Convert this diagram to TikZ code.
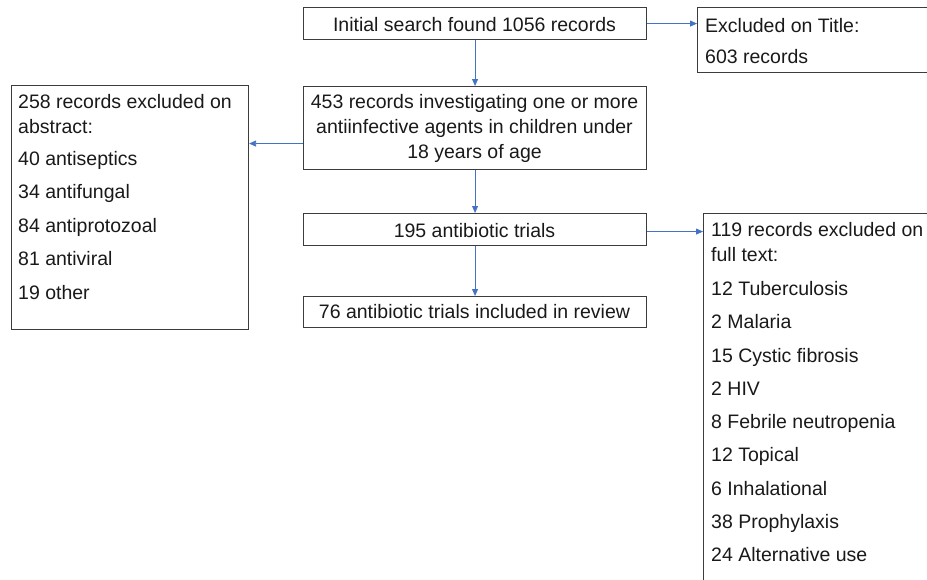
\documentclass[tikz,border=0pt]{standalone}
\usepackage{fontspec}
\setmainfont{Liberation Sans}
\usetikzlibrary{arrows.meta,calc}
\definecolor{arrowblue}{RGB}{68,114,196}
\definecolor{boxgray}{RGB}{60,60,60}
\definecolor{txt}{RGB}{25,25,25}
\begin{document}
\begin{tikzpicture}[x=1pt,y=-1pt,
  box/.style={draw=boxgray,line width=1.1pt,rectangle,inner sep=0pt},
  lbl/.style={inner sep=0pt,text=txt,font=\fontsize{19.5}{23}\selectfont},
  arr/.style={draw=arrowblue,line width=0.8pt,-{Triangle[length=7pt,width=6pt]}}]
\useasboundingbox (0,0) rectangle (927,579);
% boxes
\node[box,minimum width=343pt,minimum height=32pt,anchor=north west] (b1) at (303,7) {};
\node[box,minimum width=343pt,minimum height=83pt,anchor=north west] (b2) at (303,86) {};
\node[box,minimum width=343pt,minimum height=32pt,anchor=north west] (b3) at (303,213) {};
\node[box,minimum width=343pt,minimum height=31pt,anchor=north west] (b4) at (303,296) {};
\node[box,minimum width=237pt,minimum height=244pt,anchor=north west] (lb) at (11,85) {};
\node[box,minimum width=240pt,minimum height=65pt,anchor=north west] (tb) at (697,7) {};
\node[box,minimum width=240pt,minimum height=380pt,anchor=north west] (fb) at (703,213) {};
% central texts
\node[lbl,anchor=base] (t1) at (474.5,31) {Initial search found 1056 records};
\node[lbl,anchor=base] (t2a) at (474.5,108) {453 records investigating one or more};
\node[lbl,anchor=base] (t2b) at (474.5,133) {antiinfective agents in children under};
\node[lbl,anchor=base] (t2c) at (474.5,158) {18 years of age};
\node[lbl,anchor=base] (t3) at (474.5,237) {195 antibiotic trials};
\node[lbl,anchor=base] (t4) at (474.5,318) {76 antibiotic trials included in review};
% title box
\node[lbl,anchor=base west] (tt1) at (705,32) {Excluded on Title:};
\node[lbl,anchor=base west] (tt2) at (705,63) {603 records};
% left box
\node[lbl,anchor=base west] (l1) at (18,108) {258 records excluded on};
\node[lbl,anchor=base west] (l2) at (18,133) {abstract:};
\node[lbl,anchor=base west] (l3) at (18,165) {40 antiseptics};
\node[lbl,anchor=base west] (l4) at (18,198.5) {34 antifungal};
\node[lbl,anchor=base west] (l5) at (18,232) {84 antiprotozoal};
\node[lbl,anchor=base west] (l6) at (18,265.5) {81 antiviral};
\node[lbl,anchor=base west] (l7) at (18,299) {19 other};
% full text box
\node[lbl,anchor=base west] (f1) at (711,236) {119 records excluded on};
\node[lbl,anchor=base west] (f2) at (711,261) {full text:};
\node[lbl,anchor=base west] (f3) at (711,295) {12 Tuberculosis};
\node[lbl,anchor=base west] (f4) at (711,328.5) {2 Malaria};
\node[lbl,anchor=base west] (f5) at (711,362) {15 Cystic fibrosis};
\node[lbl,anchor=base west] (f6) at (711,395) {2 HIV};
\node[lbl,anchor=base west] (f7) at (711,428.5) {8 Febrile neutropenia};
\node[lbl,anchor=base west] (f8) at (711,461.5) {12 Topical};
\node[lbl,anchor=base west] (f9) at (711,495) {6 Inhalational};
\node[lbl,anchor=base west] (f10) at (711,528) {38 Prophylaxis};
\node[lbl,anchor=base west] (f11) at (711,561) {24 Alternative use};
% connectors
\draw[arr] (b1.south) -- (b2.north);
\draw[arr] (b1.east) -- (b1.east -| tb.west);
\draw[arr] ([yshift=-15.5pt]b2.west) -- ([yshift=-15.5pt]b2.west -| lb.east);
\draw[arr] (b2.south) -- (b3.north);
\draw[arr] ([yshift=-2pt]b3.east) -- ([yshift=-2pt]b3.east -| fb.west);
\draw[arr] (b3.south) -- (b4.north);
\end{tikzpicture}
\end{document}
